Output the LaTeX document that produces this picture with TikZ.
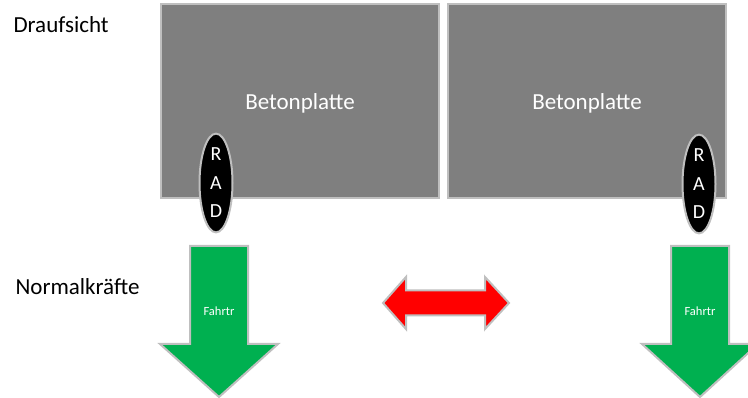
\documentclass[tikz,border=0pt]{standalone}
\usepackage{fontspec}
\setmainfont{Carlito}
\usetikzlibrary{shapes.geometric}
\definecolor{slabgray}{HTML}{7F7F7F}
\definecolor{edgegray}{HTML}{BFBFBF}
\definecolor{arrgreen}{HTML}{00B050}
\tikzset{
  slab/.style={draw=edgegray, line width=2pt, fill=slabgray},
  wheel/.style={ellipse, draw=edgegray, line width=2pt, fill=black, text=white,
    minimum width=33pt, minimum height=98pt, inner sep=0pt, align=center,
    font=\fontsize{20}{28.5}\selectfont},
  slablabel/.style={text=white, font=\fontsize{23}{27}\selectfont, anchor=base},
  sidelabel/.style={text=black, font=\fontsize{23}{27}\selectfont, anchor=base west},
  forcearrow/.style={draw=edgegray, line width=2pt, fill=arrgreen, line join=miter},
  redarrow/.style={draw=edgegray, line width=2pt, fill=red, line join=miter},
  arrlabel/.style={text=white, font=\fontsize{12.5}{15}\selectfont}
}
\begin{document}
\begin{tikzpicture}[x=1pt, y=-1pt]
\useasboundingbox (0,0) rectangle (748,398);
\clip (0,0) rectangle (748,398);
% slabs
\draw[slab] (161,4) rectangle (439,198);
\draw[slab] (448,4) rectangle (726,198);
\node[slablabel] (bp1) at (300,110) {Betonplatte};
\node[slablabel] (bp2) at (587,110) {Betonplatte};
% wheels
\node[wheel] (rad1) at (216,183) {R\\A\\D};
\node[wheel] (rad2) at (699,184) {R\\A\\D};
% labels
\node[sidelabel] (draufsicht) at (10,33) {Draufsicht};
\node[sidelabel] (normal) at (12,295) {Normalkräfte};
% green arrows
\draw[forcearrow] (190,246) -- (248,246) -- (248,344) -- (278,344) -- (219,397) -- (160,344) -- (190,344) -- cycle;
\node[arrlabel] (f1) at (219,311) {Fahrtr};
\draw[forcearrow] (671,246) -- (729,246) -- (729,344) -- (758,344) -- (700,397) -- (642,344) -- (671,344) -- cycle;
\node[arrlabel] (f2) at (700,311) {Fahrtr};
% red double arrow
\draw[redarrow] (383,303) -- (406,277) -- (406,290.5) -- (485,290.5) -- (485,277) -- (509,303) -- (485,329) -- (485,315.5) -- (406,315.5) -- (406,329) -- cycle;
\end{tikzpicture}
\end{document}
